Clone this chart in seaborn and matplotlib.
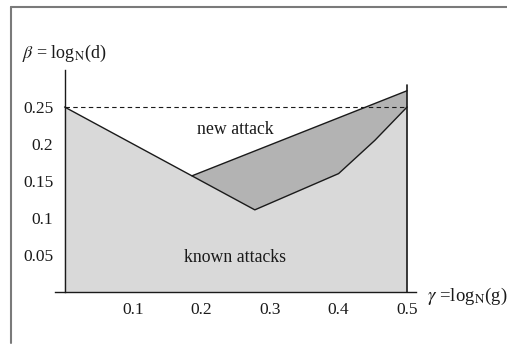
import matplotlib
matplotlib.use("Agg")
import matplotlib.pyplot as plt
from matplotlib.lines import Line2D
import seaborn as sns
import pandas as pd

# data
gamma_known = [0.0, 0.2777, 0.40, 0.453, 0.50]
beta_known = [0.25, 0.111, 0.16, 0.205, 0.25]
gamma_line = [0.0, 0.186]
beta_line = [0.25, 0.157]
gamma_new_top = [0.186, 0.50]
beta_new_top = [0.157, 0.272]
beta_threshold = 0.25
gamma_max = 0.50
beta_right_top = 0.28
x_ticks = [0.1, 0.2, 0.3, 0.4, 0.5]
x_ticklabels = ["0.1", "0.2", "0.3", "0.4", "0.5"]
y_ticks = [0.05, 0.1, 0.15, 0.2, 0.25]
y_ticklabels = ["0.05", "0.1", "0.15", "0.2", "0.25"]

sns.set_style("white")
plt.rcParams['font.family'] = ['Liberation Serif', 'DejaVu Serif']
plt.rcParams['mathtext.fontset'] = 'stix'

fig = plt.figure(figsize=(5.07, 3.45), dpi=100)
ax = fig.add_axes([55 / 507, (345 - 292) / 345, 361 / 507, 222 / 345])

LIGHT = "#d9d9d9"
DARK = "#b3b3b3"
INK = "#1a1a1a"

# known attacks region
kx = gamma_known + [gamma_max, 0.0]
ky = beta_known + [0.0, 0.0]
ax.fill(kx, ky, facecolor=LIGHT, edgecolor="none", zorder=1)

# new attack region
nx = gamma_new_top + gamma_known[::-1][:-1] + [gamma_line[1]]
ny = beta_new_top + beta_known[::-1][:-1] + [beta_line[1]]
ax.fill(nx, ny, facecolor=DARK, edgecolor="none", zorder=2)

# boundary lines
df_known = pd.DataFrame({"g": gamma_known, "b": beta_known})
sns.lineplot(data=df_known, x="g", y="b", sort=False, color=INK, lw=1.0, ax=ax, zorder=3)
df_new = pd.DataFrame({"g": gamma_new_top, "b": beta_new_top})
sns.lineplot(data=df_new, x="g", y="b", sort=False, color=INK, lw=1.0, ax=ax, zorder=3)
ax.plot([gamma_max, gamma_max], [0, beta_right_top], color=INK, lw=1.2, zorder=4)
ax.plot([0, gamma_max], [beta_threshold, beta_threshold], color=INK, lw=0.8,
        ls=(0, (4, 3)), zorder=4)

ax.set_xlim(-0.014, 0.513)
ax.set_ylim(0, 0.3)
for s in ["top", "right"]:
    ax.spines[s].set_visible(False)
ax.spines["left"].set_position(("data", 0))
ax.spines["left"].set_color(INK)
ax.spines["bottom"].set_color(INK)
ax.spines["left"].set_linewidth(1.0)
ax.spines["bottom"].set_linewidth(1.0)
ax.set_xticks(x_ticks)
ax.set_xticklabels(x_ticklabels)
ax.set_yticks(y_ticks)
ax.set_yticklabels(y_ticklabels)
ax.tick_params(axis="both", direction="in", length=3, width=0.8, color="#555555",
               labelsize=12.5, labelcolor=INK)
ax.tick_params(axis="x", pad=7)
ax.tick_params(axis="y", pad=8)
ax.set_xlabel("")
ax.set_ylabel("")

ax.text(0.249, 0.219, "new attack", ha="center", va="center", fontsize=12.8, color=INK, zorder=5)
ax.text(0.249, 0.047, "known attacks", ha="center", va="center", fontsize=12.8, color=INK, zorder=5)

fig.text(22 / 507, 1 - 53 / 345, r"$\beta$ = log$_\mathrm{N}$(d)", ha="left", va="center",
         fontsize=13, color=INK)
fig.text(427 / 507, 1 - 296 / 345, r"$\gamma$ =log$_\mathrm{N}$(g)", ha="left", va="center",
         fontsize=13.5, color=INK)

# frame of the original figure crop
fig.add_artist(Line2D([11 / 507, 1.0], [1 - 7 / 345, 1 - 7 / 345], transform=fig.transFigure,
                      color="#7a7a7a", lw=1.5))
fig.add_artist(Line2D([11 / 507, 11 / 507], [1 - 7 / 345, 2 / 345], transform=fig.transFigure,
                      color="#7a7a7a", lw=1.5))

fig.savefig("out.png", dpi=100)
